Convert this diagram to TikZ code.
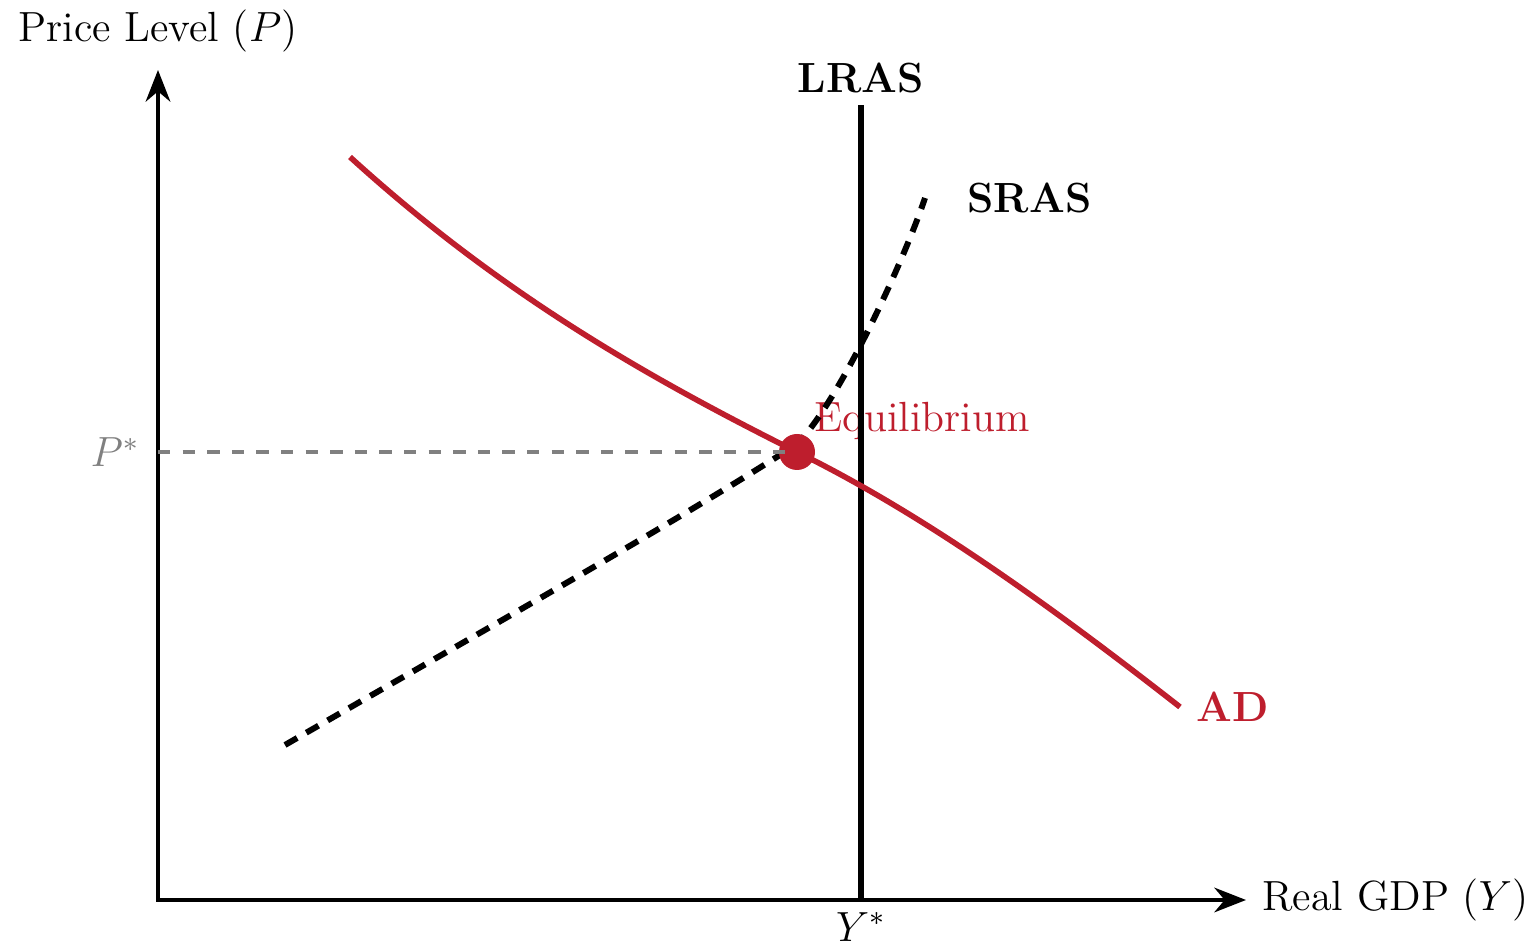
\documentclass[tikz,border=0pt]{standalone}
\usepackage{xcolor}
\definecolor{adred}{HTML}{BE1E2D}
\definecolor{guide}{HTML}{808080}
\usepackage{amsmath,amssymb}
\usepackage{tikz}
\usetikzlibrary{arrows.meta, positioning, calc}

\begin{document}
\begin{tikzpicture}[
  font=\large,
  axis/.style={{Stealth[length=9pt, width=7pt]}-{Stealth[length=9pt, width=7pt]}, line width=1.2pt},
  curvelabel/.style={font=\large\bfseries},
  adcurve/.style={adred, line width=1.6pt},
  srascurve/.style={line width=1.7pt, dash pattern=on 4pt off 3pt},
  lrasline/.style={line width=1.5pt},
  guideline/.style={guide, line width=0.9pt, dash pattern=on 3.5pt off 3.5pt}
]
  \useasboundingbox (0,0) rectangle (15.32,9.44);

  \coordinate (origin)  at (1.58,0.44);
  \coordinate (xend)    at (12.46,0.44);
  \coordinate (yend)    at (1.58,8.74);
  \coordinate (eq)      at (7.97,4.92);
  \coordinate (pAxis)   at (origin |- eq);
  \coordinate (lrasBot) at (8.61,0.44);
  \coordinate (lrasTop) at (8.61,8.39);
  \coordinate (srasBot) at (2.85,1.99);
  \coordinate (srasMid) at (7.97,5.00);
  \coordinate (srasTop) at (9.25,7.46);
  \coordinate (adStart) at (3.50,7.87);
  \coordinate (adEnd)   at (11.80,2.37);

  % axes
  \draw[axis] (yend) -- (origin) -- (xend);
  \node[above=0.05cm of yend] (ylab) {Price Level ($P$)};
  \node[right=0.04cm of xend] (xlab) {Real GDP ($Y$)};

  \node[text=adred, above right=0pt and 0.05cm of eq] (eqlab) {Equilibrium};

  % long-run supply
  \draw[lrasline] (lrasBot) -- (lrasTop);
  \node[curvelabel, above=0pt of lrasTop] (lraslab) {LRAS};
  \node[below=0pt of lrasBot] (ystar) {$Y^*$};

  % short-run supply
  \draw[srascurve] (srasBot) .. controls (4.60,3.00) and (6.90,4.30) .. (srasMid)
    .. controls (8.40,5.43) and (9.05,6.86) .. (srasTop);
  \node[curvelabel, right=0.3cm of srasTop] (sraslab) {SRAS};

  % aggregate demand
  \draw[adcurve] (adStart) .. controls (5.00,6.505) and (6.47,5.67) .. (eq)
    .. controls (9.25,4.29) and (10.52,3.37) .. (adEnd);
  \node[curvelabel, text=adred, right=0.04cm of adEnd] (adlab) {AD};

  \fill[adred] (eq) circle (0.18);
  \draw[guideline] (pAxis) -- (eq);
  \node[text=guide, left=0.06cm of pAxis] (pstar) {$P^*$};
\end{tikzpicture}
\end{document}
